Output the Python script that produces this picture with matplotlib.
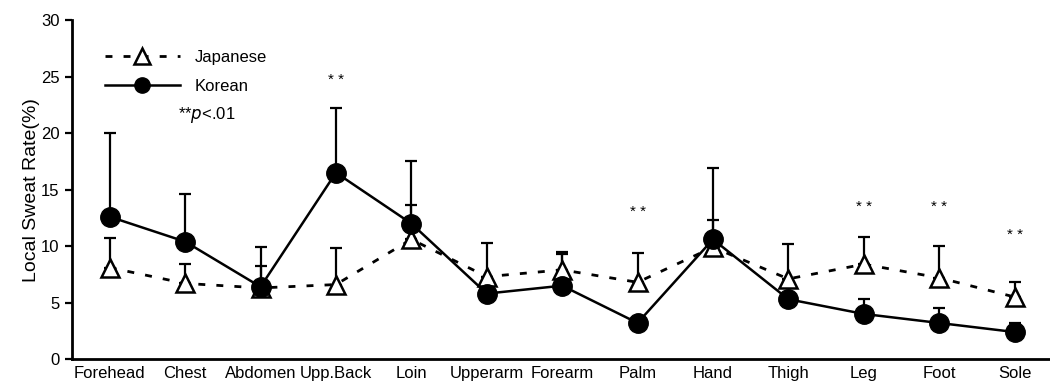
import numpy as np
import matplotlib.pyplot as plt

plt.rcParams['font.family'] = ['Liberation Sans', 'DejaVu Sans']

# Data
sites = ['Forehead', 'Chest', 'Abdomen', 'Upp.Back', 'Loin', 'Upperarm', 'Forearm',
         'Palm', 'Hand', 'Thigh', 'Leg', 'Foot', 'Sole']
korean = [12.6, 10.4, 6.4, 16.5, 12.0, 5.8, 6.5, 3.2, 10.6, 5.3, 4.0, 3.2, 2.4]
korean_sd = [7.4, 4.2, 3.5, 5.7, 5.5, 1.5, 2.8, 0.0, 6.3, 0.0, 1.3, 1.3, 0.8]
japanese = [8.1, 6.7, 6.3, 6.6, 10.6, 7.3, 7.9, 6.8, 9.9, 7.1, 8.4, 7.2, 5.5]
japanese_sd = [2.6, 1.7, 1.9, 3.2, 3.0, 3.0, 1.6, 2.6, 2.4, 3.1, 2.4, 2.8, 1.3]
star_sites = ['Upp.Back', 'Palm', 'Leg', 'Foot', 'Sole']
star_y = [24.7, 13.0, 13.5, 13.5, 11.0]

x = np.arange(len(sites))

fig = plt.figure(figsize=(10.5, 3.87), dpi=100)
ax = fig.add_axes([0.0686, 0.072, 0.9314, 0.876])

# error bars (upper only)
ax.errorbar(x, japanese, yerr=[np.zeros(len(x)), japanese_sd], fmt='none',
            ecolor='black', elinewidth=1.6, capsize=4, capthick=1.6, zorder=2)
ax.errorbar(x, korean, yerr=[np.zeros(len(x)), korean_sd], fmt='none',
            ecolor='black', elinewidth=1.6, capsize=4, capthick=1.6, zorder=2)

ax.plot(x, japanese, color='black', linestyle=(0, (2.5, 4)), linewidth=2,
        marker='^', markersize=13, markerfacecolor='white', markeredgecolor='black',
        markeredgewidth=1.8, label='Japanese', zorder=3)
ax.plot(x, korean, color='black', linestyle='-', linewidth=1.8,
        marker='o', markersize=14, markerfacecolor='black', markeredgecolor='black',
        label='Korean', zorder=4)

for s, yv in zip(star_sites, star_y):
    ax.text(sites.index(s), yv, '* *', ha='center', va='center', fontsize=11)

ax.text(0.9, 21.6, r'**$\it{p}$<.01', fontsize=12, va='center')

ax.set_xlim(-0.5, 12.47)
ax.set_ylim(0, 30)
ax.set_yticks([0, 5, 10, 15, 20, 25, 30])
ax.set_xticks(x)
ax.set_xticklabels(sites, fontsize=12)
ax.tick_params(axis='x', length=0, pad=5)
ax.tick_params(axis='y', direction='out', length=5, width=1.6, labelsize=12, pad=4)
ax.set_ylabel('Local Sweat Rate(%)', fontsize=14, labelpad=1)

for side in ['top', 'right']:
    ax.spines[side].set_visible(False)
ax.spines['left'].set_linewidth(2)
ax.spines['bottom'].set_linewidth(2)

leg = ax.legend(loc='upper left', bbox_to_anchor=(0.018, 0.956), frameon=False,
                handlelength=4.5, fontsize=12, labelspacing=0.85, handletextpad=0.9)
for h in leg.legend_handles:
    h.set_markersize(11)

fig.savefig('out.png', dpi=100)
